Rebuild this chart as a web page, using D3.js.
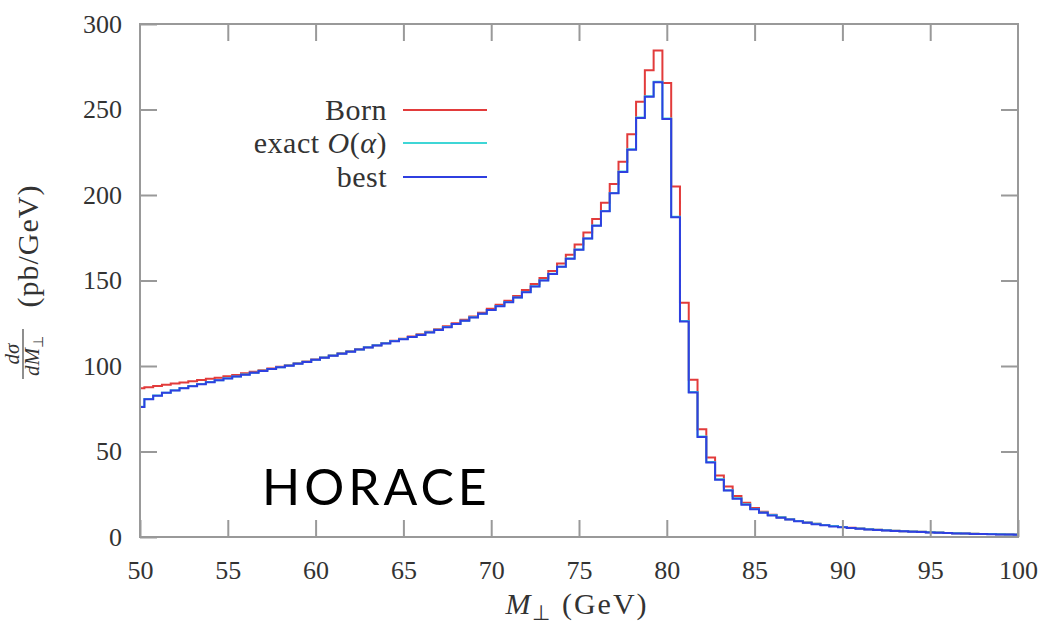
<!DOCTYPE html>
<meta charset="utf-8">
<head>
<style>
  body { margin: 0; background: #fff; }
  .tick-label { font: 26px "Liberation Serif", serif; fill: #333; }
  .legend-label { font: 30px "Liberation Serif", serif; fill: #333; letter-spacing: 0.5px; }
  .axis-title { font: 30px "Liberation Serif", serif; fill: #333; }
</style>
</head>
<body>
<script src="https://cdnjs.cloudflare.com/ajax/libs/d3/7.8.5/d3.min.js"></script>
<script>

// bin centres 50, 50.5, ..., 100 GeV (histogram steps of 0.5 GeV)
const binCenters = d3.range(50, 100.001, 0.5);

// d sigma / d M_perp (pb/GeV)
const born = [
  87.0, 87.6, 88.3, 89.0, 89.7, 90.4, 91.1, 91.8, 92.5, 93.2,
  94.0, 94.8, 95.7, 96.6, 97.5, 98.5, 99.5, 100.5, 101.6, 102.7,
  103.8, 105.0, 106.2, 107.4, 108.6, 109.8, 111.0, 112.2, 113.5, 114.8,
  116.0, 117.2, 118.5, 120.0, 121.5, 123.2, 125.0, 127.0, 129.0, 131.2,
  133.5, 135.8, 138.2, 141.0, 144.5, 148.0, 151.5, 155.5, 160.0, 165.0,
  171.0, 178.0, 186.0, 195.5, 206.5, 219.5, 235.5, 254.5, 273.0, 284.5,
  265.5, 205.0, 137.0, 92.0, 63.0, 46.5, 36.0, 29.5, 24.0, 20.0,
  17.0, 14.8, 13.0, 11.6, 10.4, 9.4, 8.5, 7.7, 7.0, 6.4,
  5.9, 5.4, 5.0, 4.6, 4.3, 4.0, 3.7, 3.4, 3.2, 3.0,
  2.8, 2.6, 2.4, 2.2, 2.1, 1.9, 1.8, 1.7, 1.6, 1.5,
  1.4
];

const exactAlpha = [
  76.2, 80.7, 82.8, 84.4, 85.8, 87.1, 88.3, 89.5, 90.6, 91.7,
  92.8, 93.9, 95.0, 96.1, 97.2, 98.3, 99.3, 100.3, 101.4, 102.5,
  103.7, 104.9, 106.1, 107.3, 108.5, 109.7, 110.9, 112.1, 113.3, 114.6,
  115.8, 117.0, 118.3, 119.7, 121.2, 122.8, 124.6, 126.5, 128.5, 130.6,
  132.8, 135.1, 137.4, 140.1, 143.3, 146.6, 150.1, 153.9, 158.1, 162.8,
  168.1, 174.6, 182.1, 190.6, 201.2, 213.7, 226.8, 245.3, 257.8, 266.3,
  244.8, 187.3, 126.3, 84.8, 58.8, 43.8, 33.8, 27.4, 22.6, 19.1,
  16.4, 14.4, 12.8, 11.5, 10.4, 9.4, 8.5, 7.7, 7.0, 6.4,
  5.8, 5.3, 4.9, 4.5, 4.2, 3.9, 3.6, 3.4, 3.2, 3.0,
  2.8, 2.6, 2.4, 2.2, 2.1, 1.9, 1.8, 1.7, 1.6, 1.5,
  1.4
];

const best = [
  76.0, 80.5, 82.6, 84.3, 85.7, 87.0, 88.2, 89.4, 90.5, 91.6,
  92.7, 93.8, 94.9, 96.0, 97.1, 98.2, 99.2, 100.2, 101.3, 102.4,
  103.6, 104.8, 106.0, 107.2, 108.4, 109.6, 110.8, 112.0, 113.2, 114.5,
  115.7, 116.9, 118.2, 119.6, 121.1, 122.7, 124.5, 126.4, 128.4, 130.5,
  132.7, 135.0, 137.3, 140.0, 143.2, 146.5, 150.0, 153.8, 158.0, 162.7,
  168.0, 174.5, 182.0, 190.5, 201.0, 213.5, 226.5, 245.0, 257.5, 266.0,
  244.5, 187.0, 126.0, 84.5, 58.5, 43.5, 33.5, 27.2, 22.4, 18.9,
  16.2, 14.2, 12.6, 11.3, 10.2, 9.2, 8.3, 7.5, 6.8, 6.2,
  5.7, 5.2, 4.8, 4.4, 4.1, 3.8, 3.5, 3.3, 3.1, 2.9,
  2.7, 2.5, 2.3, 2.1, 2.0, 1.8, 1.7, 1.6, 1.5, 1.4,
  1.3
];

const xTicks = [50, 55, 60, 65, 70, 75, 80, 85, 90, 95, 100];
const yTicks = [0, 50, 100, 150, 200, 250, 300];

const seriesList = [
  {name: "Born", values: born, color: "#e23b3b"},
  {name: "exact", values: exactAlpha, color: "#3fd6d6"},
  {name: "best", values: best, color: "#2f3fe0"}
];

const W = 1052, H = 636;
const plot = {left: 140, right: 1018, top: 24, bottom: 537};
const binWidth = 0.5;

const x = d3.scaleLinear().domain([50, 100]).range([plot.left, plot.right]);
const y = d3.scaleLinear().domain([0, 300]).range([plot.bottom, plot.top]);

const svg = d3.select("body").append("svg")
  .attr("width", W)
  .attr("height", H);

svg.append("defs").append("clipPath")
    .attr("id", "plot-clip")
  .append("rect")
    .attr("x", plot.left)
    .attr("y", plot.top)
    .attr("width", plot.right - plot.left)
    .attr("height", plot.bottom - plot.top);

// histogram steps centred on each bin centre
function steps(values) {
  const pts = [];
  values.forEach((v, i) => {
    const c = binCenters[i];
    pts.push([c - binWidth / 2, v]);
    pts.push([c + binWidth / 2, v]);
  });
  return pts;
}

const line = d3.line()
  .x(d => x(d[0]))
  .y(d => y(d[1]));

svg.append("g")
    .attr("clip-path", "url(#plot-clip)")
  .selectAll("path")
  .data(seriesList)
  .join("path")
    .attr("d", d => line(steps(d.values)))
    .attr("fill", "none")
    .attr("stroke", d => d.color)
    .attr("stroke-width", 2)
    .attr("stroke-linejoin", "miter");

// frame and inward ticks (mirrored like gnuplot)
const axisColor = "#999";
const tickLen = 17;

svg.append("rect")
  .attr("x", plot.left)
  .attr("y", plot.top)
  .attr("width", plot.right - plot.left)
  .attr("height", plot.bottom - plot.top)
  .attr("fill", "none")
  .attr("stroke", axisColor)
  .attr("stroke-width", 2);

const xAxisBottom = d3.axisBottom(x).tickValues(xTicks).tickSize(-tickLen).tickPadding(24).tickFormat(d3.format("d"));
const xAxisTop = d3.axisTop(x).tickValues(xTicks.slice(1, -1)).tickSize(-tickLen).tickFormat("");
const yAxisLeft = d3.axisLeft(y).tickValues(yTicks).tickSize(-tickLen).tickPadding(18).tickFormat(d3.format("d"));
const yAxisRight = d3.axisRight(y).tickValues(yTicks.slice(1, -1)).tickSize(-tickLen).tickFormat("");

function styleAxis(g) {
  g.select(".domain").remove();
  g.selectAll(".tick line").attr("stroke", axisColor).attr("stroke-width", 2);
  g.selectAll(".tick text").attr("class", "tick-label").attr("fill", null);
  g.attr("font-size", null).attr("font-family", null);
}

svg.append("g")
  .attr("transform", `translate(0,${plot.bottom})`)
  .call(xAxisBottom)
  .call(styleAxis);

svg.append("g")
  .attr("transform", `translate(0,${plot.top})`)
  .call(xAxisTop)
  .call(styleAxis);

svg.append("g")
  .attr("transform", `translate(${plot.left},0)`)
  .call(yAxisLeft)
  .call(styleAxis);

svg.append("g")
  .attr("transform", `translate(${plot.right},0)`)
  .call(yAxisRight)
  .call(styleAxis);

// x axis title
const xt = svg.append("text")
  .attr("x", 577)
  .attr("y", 614)
  .attr("text-anchor", "middle")
  .attr("class", "axis-title")
  .attr("font-size", 32)
  .attr("letter-spacing", 2);
xt.append("tspan").attr("font-style", "italic").text("M");
xt.append("tspan").attr("font-size", 21).attr("dy", 6).text("⊥");
xt.append("tspan").attr("dy", -6).text("  (GeV)");

// y axis title: fraction + units, rotated
svg.append("text")
  .attr("class", "axis-title")
  .attr("transform", "translate(38,246) rotate(-90)")
  .attr("text-anchor", "middle")
  .attr("letter-spacing", 1)
  .text("(pb/GeV)");

svg.append("text")
  .attr("transform", "translate(19,354) rotate(-90)")
  .attr("text-anchor", "middle")
  .attr("font-family", "Liberation Serif, serif")
  .attr("font-style", "italic")
  .attr("font-size", 21)
  .attr("fill", "#333")
  .text("dσ");

svg.append("line")
  .attr("x1", 23).attr("x2", 23)
  .attr("y1", 329).attr("y2", 379)
  .attr("stroke", "#444")
  .attr("stroke-width", 1.2);

const den = svg.append("text")
  .attr("transform", "translate(39,356) rotate(-90)")
  .attr("text-anchor", "middle")
  .attr("font-family", "Liberation Serif, serif")
  .attr("font-size", 21)
  .attr("fill", "#333");
den.append("tspan").attr("font-style", "italic").text("dM");
den.append("tspan").attr("font-size", 14).attr("dy", 4).text("⊥");

// legend
const legendRows = [
  {label: [["Born", null]], color: seriesList[0].color, yPos: 110},
  {label: [["exact ", null], ["O", "italic"], ["(", null], ["α", "italic"], [")", null]], color: seriesList[1].color, yPos: 143},
  {label: [["best", null]], color: seriesList[2].color, yPos: 177}
];

const legend = svg.append("g");
legendRows.forEach(r => {
  const t = legend.append("text")
    .attr("class", "legend-label")
    .attr("x", 387)
    .attr("y", r.yPos + 10)
    .attr("text-anchor", "end");
  r.label.forEach(([s, st]) => {
    const ts = t.append("tspan").text(s);
    if (st) ts.attr("font-style", st);
  });
  legend.append("line")
    .attr("x1", 403).attr("x2", 487)
    .attr("y1", r.yPos).attr("y2", r.yPos)
    .attr("stroke", r.color)
    .attr("stroke-width", 2);
});

// overlay label
svg.append("text")
  .attr("x", 262)
  .attr("y", 505)
  .attr("font-family", "Lato, sans-serif")
  .attr("font-size", 50)
  .attr("letter-spacing", 4)
  .attr("fill", "#000")
  .text("HORACE");

</script>
</body>
